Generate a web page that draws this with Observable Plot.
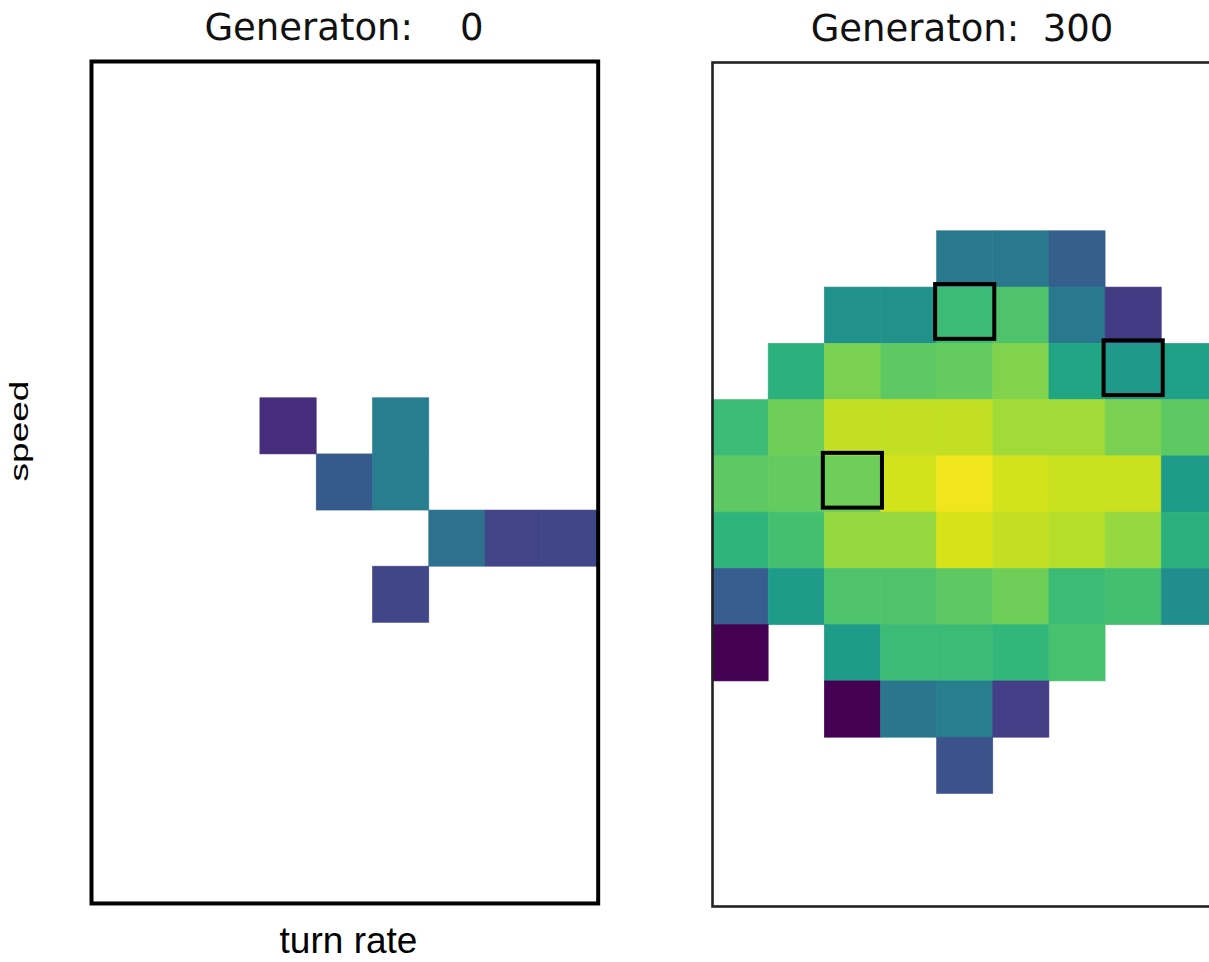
<!DOCTYPE html>
<html>
<head>
<meta charset="utf-8">
<script src="https://cdn.jsdelivr.net/npm/d3@7"></script>
<script src="https://cdn.jsdelivr.net/npm/@observablehq/plot@0.6"></script>
<style>
  html, body { margin: 0; padding: 0; background: #fff; }
  #chart { position: relative; width: 1209px; height: 962px; overflow: hidden; background: #fff; }
  #chart svg.plot { position: absolute; }
  #labels { position: absolute; left: 0; top: 0; pointer-events: none; }
</style>
</head>
<body>
<div id="chart"></div>
<script>
// Grid of the behaviour space: 9 turn-rate bins (columns) x 15 speed bins (rows, top to bottom).
const turnRateBins = d3.range(9);
const speedBins = d3.range(15);

const _ = null; // empty bin

// Normalised fitness per bin at generation 0
const gen0Values = [
  [_, _, _, _, _, _, _, _, _],
  [_, _, _, _, _, _, _, _, _],
  [_, _, _, _, _, _, _, _, _],
  [_, _, _, _, _, _, _, _, _],
  [_, _, _, _, _, _, _, _, _],
  [_, _, _, _, _, _, _, _, _],
  [_, _, _, 0.13, _, 0.42, _, _, _],
  [_, _, _, _, 0.28, 0.42, _, _, _],
  [_, _, _, _, _, _, 0.37, 0.20, 0.21],
  [_, _, _, _, _, 0.21, _, _, _],
  [_, _, _, _, _, _, _, _, _],
  [_, _, _, _, _, _, _, _, _],
  [_, _, _, _, _, _, _, _, _],
  [_, _, _, _, _, _, _, _, _],
  [_, _, _, _, _, _, _, _, _]
];

// Normalised fitness per bin at generation 300
const gen300Values = [
  [_, _, _, _, _, _, _, _, _],
  [_, _, _, _, _, _, _, _, _],
  [_, _, _, _, _, _, _, _, _],
  [_, _, _, _, 0.40, 0.40, 0.30, _, _],
  [_, _, 0.50, 0.50, 0.68, 0.72, 0.40, 0.17, _],
  [_, 0.64, 0.80, 0.75, 0.76, 0.81, 0.59, 0.54, 0.57],
  [0.68, 0.78, 0.91, 0.91, 0.91, 0.86, 0.86, 0.80, 0.75],
  [0.75, 0.76, 0.78, 0.93, 0.98, 0.93, 0.92, 0.92, 0.55],
  [0.65, 0.70, 0.84, 0.84, 0.94, 0.91, 0.89, 0.84, 0.64],
  [0.29, 0.55, 0.72, 0.72, 0.75, 0.78, 0.68, 0.70, 0.49],
  [0.00, _, 0.55, 0.68, 0.68, 0.66, 0.71, _, _],
  [_, _, 0.00, 0.39, 0.42, 0.18, _, _, _],
  [_, _, _, _, 0.25, _, _, _, _],
  [_, _, _, _, _, _, _, _, _],
  [_, _, _, _, _, _, _, _, _]
];

// Highlighted bins at generation 300
const highlightCols = [4, 7, 2];
const highlightRows = [4, 5, 7];

const generations = [0, 300];
const titles = ["Generaton:    0", "Generaton:  300"];
const xLabel = "turn rate";
const yLabel = "speed";

function toCells(grid) {
  return grid.flatMap((row, r) => row.map((v, c) => ({row: r, col: c, value: v})))
             .filter(d => d.value !== null);
}

function heatmap({grid, width, height, frameColor, frameWidth, boxes}) {
  const m = 6;
  const marks = [
    Plot.cell(toCells(grid), {
      x: "col", y: "row", fill: "value", stroke: "value", strokeWidth: 0.6, inset: 0
    }),
    Plot.frame({stroke: frameColor, strokeWidth: frameWidth})
  ];
  if (boxes) {
    marks.push(Plot.cell(boxes, {
      x: "col", y: "row", fill: "none", stroke: "black", strokeWidth: 4,
      insetLeft: -1.5, insetRight: -1.5, insetTop: -3, insetBottom: 4.5
    }));
  }
  return Plot.plot({
    width: width + 2 * m,
    height: height + 2 * m,
    margin: m,
    x: {type: "band", domain: turnRateBins, padding: 0, round: false, axis: null},
    y: {type: "band", domain: speedBins, padding: 0, round: false, axis: null},
    color: {type: "linear", scheme: "viridis", domain: [0, 1]},
    style: {background: "transparent"},
    marks
  });
}

const chart = document.getElementById("chart");

const left = heatmap({grid: gen0Values, width: 506.7, height: 842, frameColor: "#000", frameWidth: 4});
left.classList.add("plot");
left.style.left = "85px";
left.style.top = "54.5px";
chart.appendChild(left);

const boxes = highlightCols.map((c, i) => ({col: c, row: highlightRows[i]}));
const right = heatmap({grid: gen300Values, width: 505.4, height: 844, frameColor: "#222", frameWidth: 2.6, boxes});
right.classList.add("plot");
right.style.left = "706px";
right.style.top = "55.5px";
chart.appendChild(right);

// Titles and axis labels
const svg = d3.select(chart).append("svg")
  .attr("id", "labels").attr("width", 1209).attr("height", 962);

const titlePos = [[344, 40], [962, 41]];
generations.forEach((g, i) => {
  svg.append("text")
    .attr("x", titlePos[i][0]).attr("y", titlePos[i][1])
    .attr("text-anchor", "middle")
    .attr("xml:space", "preserve")
    .style("white-space", "pre")
    .attr("font-family", "DejaVu Sans")
    .attr("font-size", 37)
    .attr("fill", "#111")
    .text(titles[i]);
});

svg.append("text")
  .attr("x", 348.5).attr("y", 953)
  .attr("text-anchor", "middle")
  .attr("font-family", "Liberation Sans, Arial, sans-serif")
  .attr("font-size", 37)
  .attr("fill", "#000")
  .text(xLabel);

svg.append("text")
  .attr("transform", "translate(28,431) scale(0.7,1) rotate(-90)")
  .attr("text-anchor", "middle")
  .attr("font-family", "Liberation Sans, Arial, sans-serif")
  .attr("font-size", 37)
  .attr("fill", "#000")
  .text(yLabel);
</script>
</body>
</html>
